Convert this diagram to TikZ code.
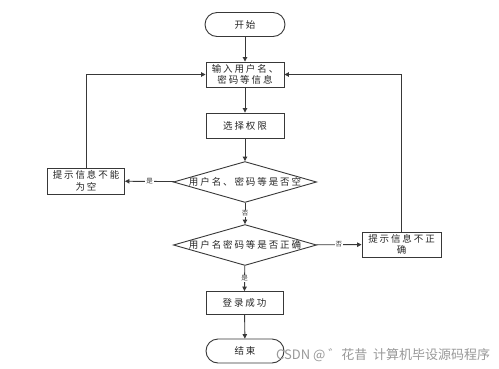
\documentclass[tikz,border=0pt]{standalone}
\usepackage{fontspec}
\newfontfamily\cjk[LetterSpace=20]{Noto Sans CJK SC}
\newfontfamily\cjklab{Noto Sans CJK SC}
\newfontfamily\wmfont{Noto Sans CJK SC}
\usetikzlibrary{shapes.geometric,arrows.meta}
\definecolor{linec}{HTML}{383838}
\tikzset{
  base/.style={draw=linec,line width=0.9pt,font=\cjk\fontsize{9.5}{11.5}\selectfont,align=center,inner sep=0pt,text=black!85},
  proc/.style={base,rectangle,minimum width=78pt,minimum height=25pt},
  term/.style={base,rectangle,rounded corners=12pt,minimum width=80pt,minimum height=24pt},
  deci/.style={base,diamond,aspect=3.5,minimum width=140pt,minimum height=38pt},
  conn/.style={draw=linec,line width=0.9pt,-{Triangle[length=4.5pt,width=4.5pt]}},
  lab/.style={fill=white,inner sep=1pt,font=\cjklab\fontsize{6.5}{7}\selectfont,text=black!80}
}
\begin{document}
\begin{tikzpicture}[x=1pt,y=-1pt]
\useasboundingbox[fill=white] (0,0) rectangle (499,368);
\node[term] (start) at (245,24.5) {开始};
\node[proc] (input) at (245,74.5) {输入用户名、\\密码等信息};
\node[proc] (select) at (245,125.5) {选择权限};
\node[deci] (d1) at (245,182) {用户名、密码等是否空};
\node[proc,minimum width=77pt,minimum height=26pt] (empty) at (86,181) {提示信息不能\\为空};
\node[deci,minimum height=36pt] (d2) at (245,245) {用户名密码等是否正确};
\node[proc,minimum width=79pt] (wrong) at (401.5,244.5) {提示信息不正\\确};
\node[proc,minimum width=77pt,minimum height=23pt] (ok) at (244.5,303) {登录成功};
\node[term,minimum width=78pt] (end) at (245,351) {结束};
\draw[conn] (start) -- (input);
\draw[conn] (input) -- (select);
\draw[conn] (select) -- (d1);
\draw[conn] (d1) -- node[lab] {否} (d2);
\draw[conn] (d1) -- node[lab] {是} (empty);
\draw[conn] (d2) -- node[lab] {否} (wrong);
\draw[conn] (d2) -- node[lab] {是} (ok.north);
\draw[conn] (ok) -- (end);
\draw[conn] (empty.north) |- (input.west);
\draw[conn] (wrong.north) |- (input.east);
\node[anchor=west,inner sep=0pt,text=black!40,font=\wmfont\fontsize{13}{14}\selectfont] (wm) at (276,355) {CSDN @ ゛花昔\ \ 计算机毕设源码程序};
\end{tikzpicture}
\end{document}
